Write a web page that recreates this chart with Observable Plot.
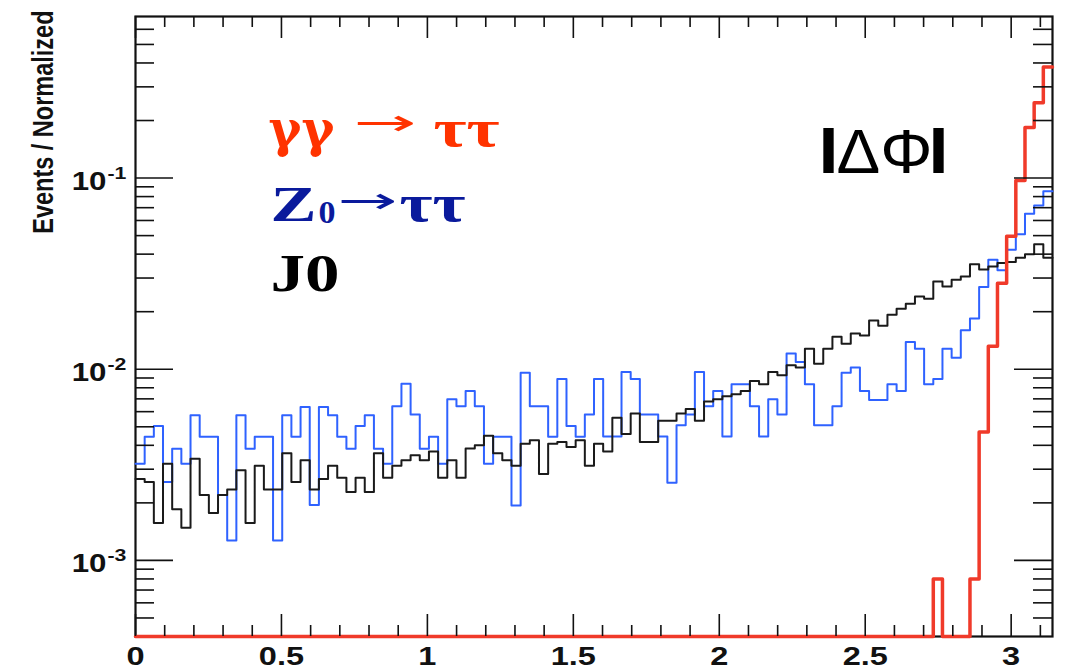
<!DOCTYPE html>
<html><head><meta charset="utf-8">
<script src="https://cdn.jsdelivr.net/npm/d3@7"></script>
<script src="https://cdn.jsdelivr.net/npm/@observablehq/plot@0.6"></script>
<style>body{margin:0;background:#fff;}#chart svg{display:block;}</style>
</head><body><div id="chart"></div>
<script>
// ---- data (100 bins over |ΔΦ| in [0, π]) ----
const xMax = Math.PI;
const nBins = 100;
const z0 = [0.0032,0.00443,0.00505,0.00257,0.00384,0.0032,0.00575,0.00443,0.00443,0.0022,
0.00127,0.00575,0.00384,0.00443,0.00443,0.00127,0.00575,0.00443,0.00635,0.00195,
0.00635,0.00575,0.00443,0.00384,0.00505,0.00575,0.00384,0.0032,0.0064,0.0084,
0.0058,0.00384,0.00443,0.0032,0.00697,0.0064,0.0077,0.0064,0.0032,0.00443,
0.00443,0.00194,0.00958,0.0064,0.0064,0.00443,0.0089,0.00505,0.00443,0.0058,
0.0089,0.00445,0.00445,0.00967,0.0089,0.0058,0.0058,0.00445,0.00255,0.0051,
0.0058,0.00967,0.0064,0.0077,0.00445,0.00834,0.00834,0.0064,0.00445,0.00697,
0.0058,0.0121,0.0109,0.00834,0.0051,0.0051,0.0064,0.0096,0.0102,0.0077,
0.0069,0.0069,0.00834,0.0077,0.0139,0.0128,0.00834,0.0089,0.0128,0.0115,
0.0160,0.0184,0.0269,0.0374,0.0329,0.0422,0.0508,0.0651,0.0719,0.0852];
const j0 = [0.00267,0.00257,0.00157,0.0032,0.00185,0.00148,0.0034,0.0022,0.00177,0.0022,
0.00235,0.00296,0.00157,0.00313,0.00235,0.00235,0.00364,0.00257,0.00334,0.00235,
0.00267,0.00313,0.00271,0.00228,0.00271,0.00228,0.00364,0.00271,0.00313,0.00334,
0.00355,0.00334,0.00371,0.00271,0.00334,0.00271,0.00385,0.0040,0.00449,0.00364,
0.00334,0.00313,0.00408,0.00425,0.00283,0.00408,0.00416,0.00392,0.00425,0.00313,
0.00408,0.00371,0.00558,0.00458,0.00587,0.00416,0.00416,0.00537,0.00537,0.00587,
0.0062,0.00537,0.00678,0.00697,0.00723,0.00741,0.0077,0.00867,0.00834,0.00967,
0.0093,0.0105,0.0102,0.0128,0.0107,0.0128,0.0148,0.0136,0.0154,0.0150,
0.0180,0.0169,0.0193,0.0207,0.0220,0.0240,0.0234,0.0288,0.0271,0.0294,
0.0306,0.0354,0.0332,0.0345,0.0359,0.0364,0.0383,0.0399,0.0450,0.0383];
const gg = [0,0,0,0,0,0,0,0,0,0, 0,0,0,0,0,0,0,0,0,0, 0,0,0,0,0,0,0,0,0,0,
0,0,0,0,0,0,0,0,0,0, 0,0,0,0,0,0,0,0,0,0, 0,0,0,0,0,0,0,0,0,0,
0,0,0,0,0,0,0,0,0,0, 0,0,0,0,0,0,0,0,0,0, 0,0,0,0,0,0,0,0.0008,0,0,
0,0.0008,0.0047,0.0132,0.0282,0.0496,0.0972,0.184,0.248,0.381];

const xMajor = [0, 0.5, 1, 1.5, 2, 2.5, 3];
const xMinor = [0.1,0.2,0.3,0.4,0.6,0.7,0.8,0.9,1.1,1.2,1.3,1.4,1.6,1.7,1.8,1.9,2.1,2.2,2.3,2.4,2.6,2.7,2.8,2.9,3.1];
const xLabels = ["0","0.5","1","1.5","2","2.5","3"];
const yMajor = [1e-3, 1e-2, 1e-1];
const yExp = ["-3", "-2", "-1"];
const yMinor = [5e-4,6e-4,7e-4,8e-4,9e-4, 2e-3,3e-3,4e-3,5e-3,6e-3,7e-3,8e-3,9e-3, 2e-2,3e-2,4e-2,5e-2,6e-2,7e-2,8e-2,9e-2, 2e-1,3e-1,4e-1,5e-1,6e-1];
const yDomain = [4e-4, 0.7];
const yTitle = "Events / Normalized";

// ---- layout ----
const W = 1066, H = 670, mL = 135, mR = 14, mT = 16, mB = 34;
const FW = W - mL - mR, FH = H - mT - mB;

function steps(values) {
  const w = xMax / nBins;
  const pts = values.map((v, i) => ({x: i * w, y: v > 0 ? v : yDomain[0]}));
  pts.push({x: xMax, y: pts[pts.length - 1].y});
  return pts;
}
const ink = "#111";
const bold = {fontWeight: "bold"};
const serif = "'Liberation Serif','Times New Roman',serif";
const greekSerif = "'DejaVu Serif','Liberation Serif',serif";
const sans = "'Liberation Sans',Arial,Helvetica,sans-serif";
const arrowFont = "'DejaVu Sans',sans-serif";
const red = "#ff3300", navy = "#0a1a9c";

// annotation text: left edge x, baseline y (page pixels), target width w
function note(t, x, y, w, o) {
  return Plot.text([t], Object.assign({frameAnchor: "top-left", text: d => d, textAnchor: "start",
    lineAnchor: "bottom", dx: x - mL, dy: y - mT, ariaLabel: () => "w:" + w}, o));
}

const chart = Plot.plot({
  width: W, height: H, marginLeft: mL, marginRight: mR, marginTop: mT, marginBottom: mB,
  style: {fontFamily: sans, background: "#fff", overflow: "visible"},
  x: {domain: [0, xMax], axis: null},
  y: {type: "log", domain: yDomain, axis: null},
  marks: [
    Plot.frame({stroke: ink, strokeWidth: 2.2}),
    Plot.lineY(steps(z0), {x: "x", y: "y", curve: "step-after", stroke: "#2f62ff", strokeWidth: 2}),
    Plot.lineY(steps(j0), {x: "x", y: "y", curve: "step-after", stroke: "#1a1a1a", strokeWidth: 2}),
    Plot.lineY(steps(gg), {x: "x", y: "y", curve: "step-after", stroke: "#f03a2a", strokeWidth: 3.5}),
    // inward ticks on all four sides
    Plot.tickX(xMajor, {x: d => d, insetTop: FH - 22, stroke: ink, strokeWidth: 1.6}),
    Plot.tickX(xMajor, {x: d => d, insetBottom: FH - 22, stroke: ink, strokeWidth: 1.6}),
    Plot.tickX(xMinor, {x: d => d, insetTop: FH - 11, stroke: ink, strokeWidth: 1.6}),
    Plot.tickX(xMinor, {x: d => d, insetBottom: FH - 11, stroke: ink, strokeWidth: 1.6}),
    Plot.tickY(yMajor, {y: d => d, insetRight: FW - 38, stroke: ink, strokeWidth: 1.6}),
    Plot.tickY(yMajor, {y: d => d, insetLeft: FW - 38, stroke: ink, strokeWidth: 1.6}),
    Plot.tickY(yMinor, {y: d => d, insetRight: FW - 19, stroke: ink, strokeWidth: 1.6}),
    Plot.tickY(yMinor, {y: d => d, insetLeft: FW - 19, stroke: ink, strokeWidth: 1.6}),
    // axis labels
    Plot.text(xMajor, {x: d => d, frameAnchor: "bottom", text: (d, i) => xLabels[i], dy: 28, lineAnchor: "bottom",
      fontSize: 26, ...bold, fill: ink, ariaLabel: () => "wide"}),
    Plot.text(yMajor, {y: d => d, frameAnchor: "left", text: () => "10", textAnchor: "end", dx: -29, dy: 12,
      lineAnchor: "bottom", fontSize: 25, ...bold, fill: ink, ariaLabel: () => "wide"}),
    Plot.text(yMajor, {y: d => d, frameAnchor: "left", text: (d, i) => yExp[i], textAnchor: "start", dx: -28, dy: 1,
      lineAnchor: "bottom", fontSize: 17, ...bold, fill: ink, ariaLabel: () => "wide"}),
    Plot.text([yTitle], {frameAnchor: "top-left", text: d => d, rotate: -90, textAnchor: "end", lineAnchor: "bottom",
      dx: 52 - mL, dy: 10 - mT, fontSize: 23.5, ...bold, fill: ink, ariaLabel: () => "ytitle"}),
    // legend annotations
    note("γγ", 268, 145, 66, {fill: red, fontFamily: greekSerif, fontSize: 50, ...bold}),
    note("→", 353, 134, 63, {fill: red, fontFamily: arrowFont, fontSize: 36}),
    note("ττ", 433, 145, 66, {fill: red, fontFamily: serif, fontSize: 52, ...bold}),
    note("Z", 270, 220, 46, {fill: navy, fontFamily: serif, fontSize: 50, ...bold}),
    note("0", 318, 222, 17, {fill: navy, fontFamily: serif, fontSize: 32, ...bold}),
    note("→", 337, 212, 60, {fill: navy, fontFamily: arrowFont, fontSize: 36}),
    note("ττ", 399, 220, 66, {fill: navy, fontFamily: serif, fontSize: 52, ...bold}),
    note("J0", 270, 290, 69, {fill: "#000", fontFamily: serif, fontSize: 52, ...bold}),
    note("I", 818, 172, 20, {fill: "#000", fontSize: 64, ...bold}),
    note("ΔΦ", 836, 172, 96, {fill: "#000", fontSize: 63}),
    note("I", 928, 172, 20, {fill: "#000", fontSize: 64, ...bold})
  ]
});
document.getElementById("chart").appendChild(chart);
// the reference picture is horizontally stretched: widen the upright texts to match
chart.querySelectorAll('text[aria-label="wide"]').forEach(t => {
  const w = t.getComputedTextLength();
  if (w > 0) { t.setAttribute("textLength", (w * 1.25).toFixed(1)); t.setAttribute("lengthAdjust", "spacingAndGlyphs"); }
});
chart.querySelectorAll('text[aria-label^="w:"]').forEach(t => {
  const w = +t.getAttribute("aria-label").slice(2);
  t.setAttribute("textLength", w); t.setAttribute("lengthAdjust", "spacingAndGlyphs");
});
chart.querySelectorAll('text[aria-label="ytitle"]').forEach(t => {
  const tr = t.getAttribute("transform") || "";
  t.setAttribute("transform", tr + " scale(1,1.25)");
});
</script>
</body></html>
